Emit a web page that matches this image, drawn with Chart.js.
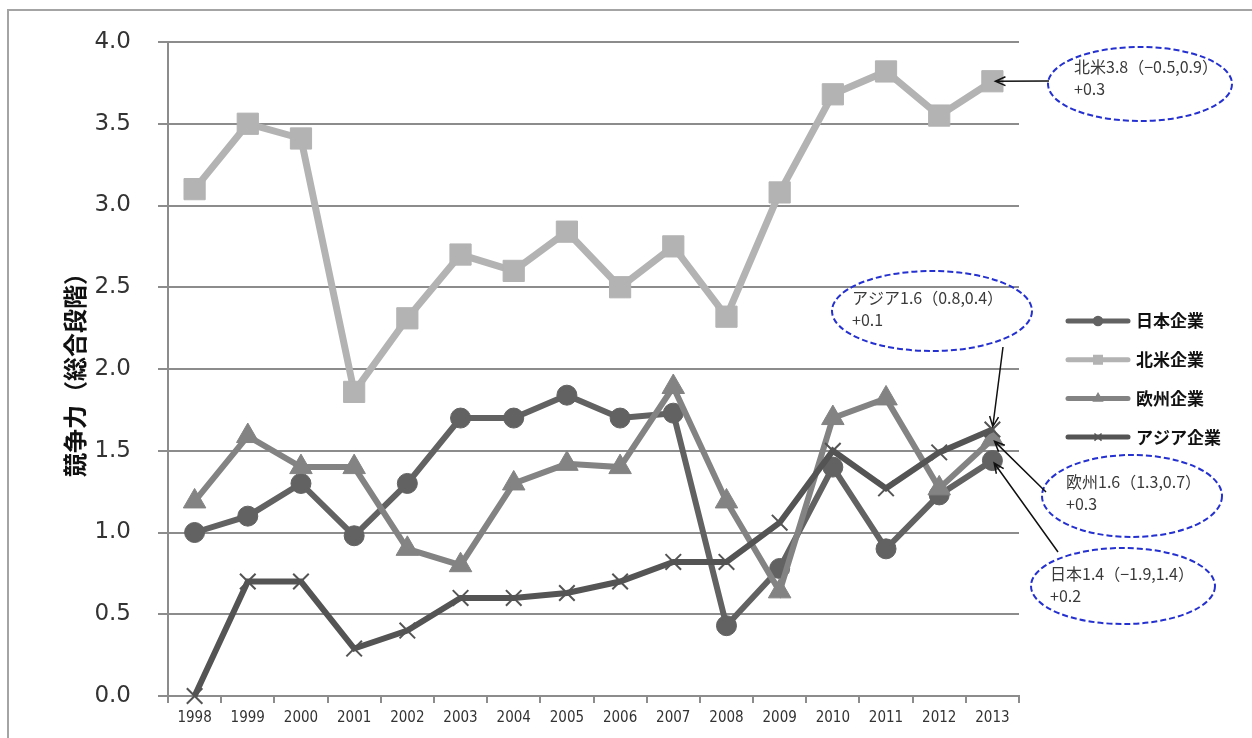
<!DOCTYPE html>
<html>
<head>
<meta charset="utf-8">
<script src="https://cdn.jsdelivr.net/npm/chart.js@4.4.1/dist/chart.umd.min.js"></script>
<style>
    html, body { margin: 0; padding: 0; background: #fff; }
    #wrap { position: relative; width: 1252px; height: 738px; overflow: hidden; }
    #frame { position: absolute; left: 7px; top: 9px; right: -10px; bottom: -10px;
             border-top: 2px solid #a4a4a4; border-left: 2px solid #a4a4a4; }
    #c { position: absolute; left: 0; top: 0; }
</style>
</head>
<body>
<div id="wrap">
    <div id="frame"></div>
    <canvas id="c" width="1252" height="738"></canvas>
</div>
<script>
// competitiveness scores by year
const years = ['1998', '1999', '2000', '2001', '2002', '2003', '2004', '2005',
               '2006', '2007', '2008', '2009', '2010', '2011', '2012', '2013'];
const japan        = [1.00, 1.10, 1.30, 0.98, 1.30, 1.70, 1.70, 1.84, 1.70, 1.73, 0.43, 0.78, 1.40, 0.90, 1.23, 1.44];
const northAmerica = [3.10, 3.50, 3.41, 1.86, 2.31, 2.70, 2.60, 2.84, 2.50, 2.75, 2.32, 3.08, 3.68, 3.82, 3.55, 3.76];
const europe       = [1.19, 1.59, 1.40, 1.40, 0.90, 0.80, 1.30, 1.42, 1.40, 1.89, 1.19, 0.64, 1.70, 1.82, 1.27, 1.57];
const asia         = [0.00, 0.70, 0.70, 0.29, 0.40, 0.60, 0.60, 0.63, 0.70, 0.82, 0.82, 1.06, 1.50, 1.27, 1.49, 1.63];

const seriesNames = ['日本企業', '北米企業', '欧州企業', 'アジア企業'];
const yMin = 0, yMax = 4, yStep = 0.5;

// callouts on the 2013 values: which series, short name, (x, y) pair, change
const noteSeries = [1, 3, 2, 0];
const noteNames  = ['北米', 'アジア', '欧州', '日本'];
const noteRanges = ['（−0.5,0.9）', '（0.8,0.4）', '（1.3,0.7）', '（−1.9,1.4）'];
const noteDeltas = ['+0.3', '+0.1', '+0.3', '+0.2'];

// callout layout (canvas px): ellipse centre/radii, text left, arrow start
const noteBoxes = [
    { cx: 1140, cy: 84,  rx: 92,  ry: 37, tx: 1074, ty: 67,  ax: 1049, ay: 81 },
    { cx: 932,  cy: 311, rx: 100, ry: 40, tx: 852,  ty: 298, ax: 1003, ay: 347 },
    { cx: 1132, cy: 496, rx: 90,  ry: 41, tx: 1066, ty: 482, ax: 1046, ay: 492 },
    { cx: 1123, cy: 586, rx: 92,  ry: 38, tx: 1050, ty: 574, ax: 1058, ay: 552 }
];

const FONT_JP = '"Noto Sans CJK JP", "Noto Sans", sans-serif';

function line(label, data, color, style, radius, width, border) {
    return {
        label: label,
        data: data,
        borderColor: color,
        backgroundColor: color,
        borderWidth: width,
        pointStyle: style,
        pointRadius: radius,
        pointHoverRadius: radius,
        pointBorderWidth: border,
        pointBackgroundColor: color,
        pointBorderColor: color,
        tension: 0,
        clip: false
    };
}

const datasets = [
    line(seriesNames[0], japan, '#626262', 'circle', 10, 6, 1),
    line(seriesNames[1], northAmerica, '#b3b3b3', 'rect', 15, 7, 1),
    line(seriesNames[2], europe, '#838383', 'triangle', 13, 6, 1),
    line(seriesNames[3], asia, '#545454', 'crossRot', 11, 6, 2)
];
// later series drawn on top
datasets.forEach(function (ds, i) { ds.order = datasets.length - i; });

const legendMarks = [
    { style: 'circle', r: 4.5 },
    { style: 'rect', r: 6 },
    { style: 'triangle', r: 5 },
    { style: 'crossRot', r: 5 }
];

// right-hand legend: line sample with small marker, bold label
const sideLegend = {
    id: 'sideLegend',
    afterDraw: function (chart) {
        const ctx = chart.ctx;
        ctx.save();
        chart.data.datasets.forEach(function (ds, i) {
            const y = 321 + i * 38.7;
            ctx.strokeStyle = ds.borderColor;
            ctx.fillStyle = ds.borderColor;
            ctx.lineWidth = 5;
            ctx.lineCap = 'round';
            ctx.beginPath();
            ctx.moveTo(1068, y);
            ctx.lineTo(1128, y);
            ctx.stroke();
            ctx.lineCap = 'butt';
            ctx.lineWidth = 1.5;
            Chart.helpers.drawPoint(ctx, {
                pointStyle: legendMarks[i].style,
                radius: legendMarks[i].r,
                rotation: 0,
                borderWidth: 1.5
            }, 1098, y);
            ctx.fillStyle = '#111';
            ctx.font = 'bold 17px ' + FONT_JP;
            ctx.textAlign = 'left';
            ctx.textBaseline = 'middle';
            ctx.fillText(ds.label, 1136, y);
        });
        ctx.restore();
    }
};

function arrow(ctx, x0, y0, x1, y1) {
    const a = Math.atan2(y1 - y0, x1 - x0);
    const head = 11, spread = 0.42;
    ctx.beginPath();
    ctx.moveTo(x0, y0);
    ctx.lineTo(x1, y1);
    ctx.moveTo(x1 - head * Math.cos(a - spread), y1 - head * Math.sin(a - spread));
    ctx.lineTo(x1, y1);
    ctx.lineTo(x1 - head * Math.cos(a + spread), y1 - head * Math.sin(a + spread));
    ctx.stroke();
}

// dashed ellipses with the 2013 value, arrows pointing at that point
const callouts = {
    id: 'callouts',
    afterDraw: function (chart) {
        const ctx = chart.ctx;
        const xs = chart.scales.x, ys = chart.scales.y;
        const last = years.length - 1;
        ctx.save();
        noteSeries.forEach(function (si, i) {
            const b = noteBoxes[i];
            const v = chart.data.datasets[si].data[last];

            ctx.setLineDash([6, 3]);
            ctx.strokeStyle = '#2430d0';
            ctx.lineWidth = 2;
            ctx.beginPath();
            ctx.ellipse(b.cx, b.cy, b.rx, b.ry, 0, 0, Math.PI * 2);
            ctx.stroke();
            ctx.setLineDash([]);

            ctx.fillStyle = '#3a3a3a';
            ctx.font = '16px ' + FONT_JP;
            ctx.textAlign = 'left';
            ctx.textBaseline = 'middle';
            ctx.fillText(noteNames[i] + v.toFixed(1) + noteRanges[i], b.tx, b.ty);
            ctx.fillText(noteDeltas[i], b.tx, b.ty + 22);

            const px = xs.getPixelForValue(last);
            const py = ys.getPixelForValue(v);
            const a = Math.atan2(b.ay - py, b.ax - px);
            ctx.strokeStyle = '#111';
            ctx.lineWidth = 1.5;
            arrow(ctx, b.ax, b.ay, px + 3 * Math.cos(a), py + 3 * Math.sin(a));
        });
        ctx.restore();
    }
};

new Chart(document.getElementById('c'), {
    type: 'line',
    data: { labels: years, datasets: datasets },
    options: {
        responsive: false,
        animation: false,
        devicePixelRatio: 1,
        layout: { padding: { left: 0, right: 233, top: 42, bottom: 0 } },
        plugins: {
            legend: { display: false },
            tooltip: { enabled: false }
        },
        scales: {
            x: {
                offset: true,
                grid: { offset: true, drawOnChartArea: false, drawTicks: true, tickLength: 7,
                        color: '#8c8c8c', lineWidth: 2 },
                border: { color: '#8c8c8c', width: 2 },
                ticks: {
                    color: '#333',
                    font: { family: '"Liberation Sans Narrow", "DejaVu Sans Condensed", sans-serif', size: 15 },
                    padding: 6,
                    maxRotation: 0,
                    autoSkip: false
                },
                afterFit: function (s) { s.height = 42; }
            },
            y: {
                min: yMin,
                max: yMax,
                ticks: {
                    stepSize: yStep,
                    color: '#333',
                    font: { family: '"DejaVu Sans", Verdana, sans-serif', size: 23 },
                    padding: 27,
                    callback: function (v) { return v.toFixed(1); }
                },
                grid: { color: '#8c8c8c', lineWidth: 2, tickLength: 10 },
                border: { color: '#8c8c8c', width: 2 },
                title: {
                    display: true,
                    text: '競争力（総合段階）',
                    color: '#111',
                    font: { family: FONT_JP, size: 24, weight: 'bold' },
                    padding: { top: 60, bottom: 0 }
                },
                afterFit: function (s) { s.width = 168; }
            }
        }
    },
    plugins: [sideLegend, callouts]
});
</script>
</body>
</html>
